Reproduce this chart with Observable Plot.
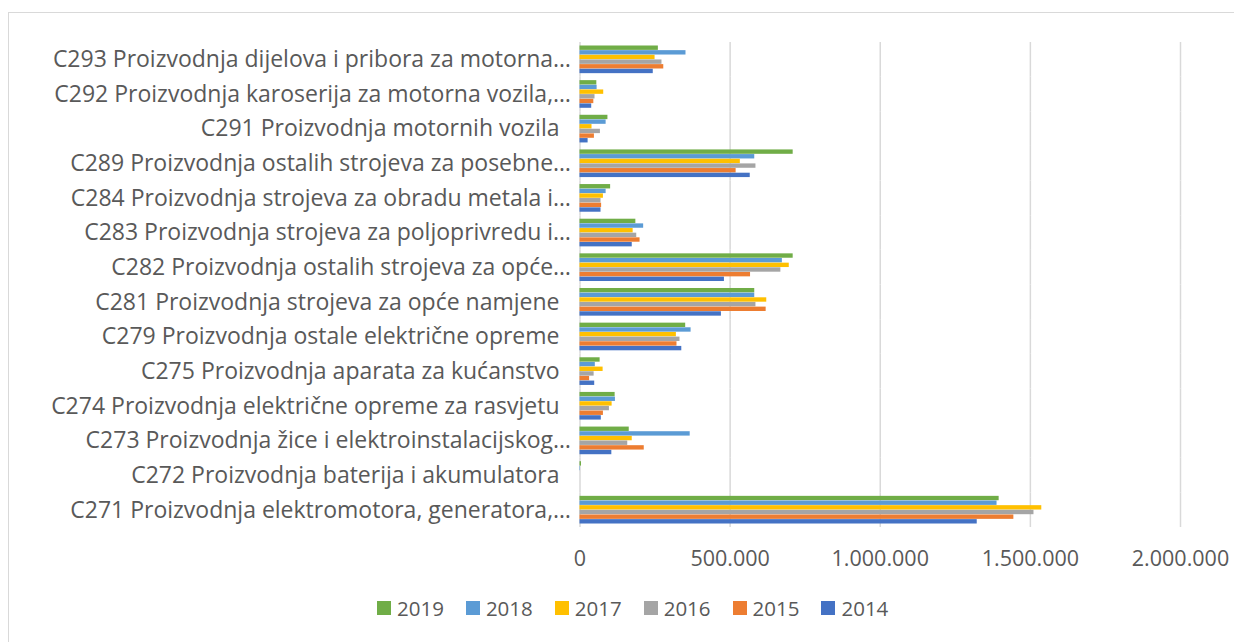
<!DOCTYPE html>
<html>
<head>
<meta charset="utf-8">
<script src="https://cdn.jsdelivr.net/npm/d3@7"></script>
<script src="https://cdn.jsdelivr.net/npm/@observablehq/plot@0.6"></script>
<style>
  html, body { margin: 0; padding: 0; background: #ffffff; }
  body { width: 1234px; height: 642px; position: relative; overflow: hidden; font-family: "Open Sans", sans-serif; }
  #frame { position: absolute; left: 8px; top: 12px; width: 1400px; height: 800px; border-left: 1.5px solid #d9d9d9; border-top: 1.5px solid #d9d9d9; }
  #chart { position: absolute; left: 0; top: 0; }
  #legend { position: absolute; left: 377px; top: 594px; display: flex; align-items: center; font-size: 20.5px; color: #595959; line-height: 28px; }
  .item { display: flex; align-items: center; margin-right: 22px; }
  .sw { width: 14px; height: 14px; margin-right: 6px; }
</style>
</head>
<body>
<div id="frame"></div>
<div id="chart"></div>
<div id="legend"></div>
<script>
const categories = [
  "C293 Proizvodnja dijelova i pribora za motorna…",
  "C292 Proizvodnja karoserija za motorna vozila,…",
  "C291 Proizvodnja motornih vozila\u2002",
  "C289 Proizvodnja ostalih strojeva za posebne…",
  "C284 Proizvodnja strojeva za obradu metala i…",
  "C283 Proizvodnja strojeva za poljoprivredu i…",
  "C282 Proizvodnja ostalih strojeva za opće…",
  "C281 Proizvodnja strojeva za opće namjene\u2002",
  "C279 Proizvodnja ostale električne opreme\u2002",
  "C275 Proizvodnja aparata za kućanstvo\u2002",
  "C274 Proizvodnja električne opreme za rasvjetu\u2002",
  "C273 Proizvodnja žice i elektroinstalacijskog…",
  "C272 Proizvodnja baterija i akumulatora\u2002",
  "C271 Proizvodnja elektromotora, generatora,…"
];
const years = ["2019", "2018", "2017", "2016", "2015", "2014"];
const colors = ["#70AD47", "#5B9BD5", "#FFC000", "#A5A5A5", "#ED7D31", "#4472C4"];

const v2019 = [261000, 56000, 93000, 710000, 102000, 186000, 710000, 582000, 352000, 67000, 117000, 164000, 5000, 1396000];
const v2018 = [353000, 57000, 87000, 582000, 87000, 212000, 674000, 582000, 370000, 51000, 118000, 367000, 1500, 1389000];
const v2017 = [250000, 79000, 40000, 534000, 78000, 177000, 697000, 622000, 321000, 77000, 107000, 174000, 0, 1538000];
const v2016 = [273000, 50000, 68000, 586000, 70000, 189000, 669000, 586000, 333000, 47000, 98000, 159000, 0, 1512000];
const v2015 = [279000, 46000, 48000, 520000, 72000, 200000, 568000, 620000, 323000, 32000, 78000, 214000, 0, 1445000];
const v2014 = [244000, 39000, 27000, 567000, 70000, 174000, 481000, 471000, 339000, 49000, 71000, 106000, 0, 1323000];

const xTicks = [0, 500000, 1000000, 1500000, 2000000];

const series = [v2019, v2018, v2017, v2016, v2015, v2014];
const data = categories.flatMap((c, i) => years.map((y, j) => ({category: c, year: y, value: series[j][i]})));

const fmt = d => d3.format(",")(d).replace(/,/g, ".");

const chart = Plot.plot({
  width: 1234,
  height: 580,
  marginLeft: 579.5,
  marginRight: 54,
  marginTop: 42,
  marginBottom: 53,
  style: {fontFamily: "'Open Sans', sans-serif", fontSize: "23px", color: "#595959", background: "transparent", overflow: "visible"},
  facet: {data, y: "category"},
  fy: {domain: categories, padding: 0, round: false, axis: "left", label: null, tickSize: 0, tickPadding: 9},
  x: {domain: [0, 2000000], ticks: xTicks, tickFormat: fmt, tickSize: 0, tickPadding: 23, label: null},
  y: {domain: years, paddingInner: 0.06, paddingOuter: 0.75, round: false, axis: null},
  color: {domain: years, range: colors},
  marks: [
    Plot.gridX(xTicks, {stroke: "#d9d9d9", strokeOpacity: 1, strokeWidth: 1.5}),
    Plot.barX(data, {x: "value", y: "year", fill: "year"})
  ]
});
document.getElementById("chart").appendChild(chart);
// x tick labels are slightly smaller than category labels
d3.select(chart).selectAll("g[aria-label='x-axis tick label'] text, g[aria-label='x-axis'] text").style("font-size", "21.5px");

const legend = document.getElementById("legend");
years.forEach((y, j) => {
  const item = document.createElement("div");
  item.className = "item";
  const sw = document.createElement("div");
  sw.className = "sw";
  sw.style.background = colors[j];
  const t = document.createElement("span");
  t.textContent = y;
  item.appendChild(sw);
  item.appendChild(t);
  legend.appendChild(item);
});
</script>
</body>
</html>
